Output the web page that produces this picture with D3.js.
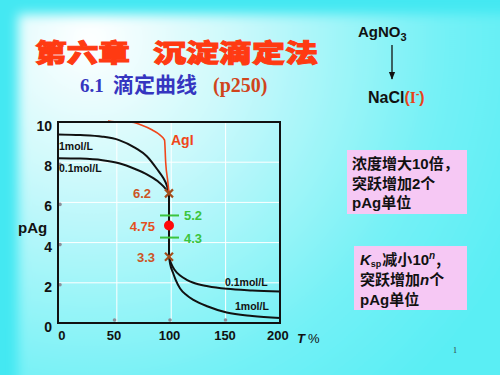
<!DOCTYPE html>
<html>
<head>
<meta charset="utf-8">
<script src="https://cdn.jsdelivr.net/npm/d3@7"></script>
<style>
  body { margin: 0; }
  svg { display: block; }
  text { font-family: Arial, "Liberation Sans", sans-serif; }
</style>
</head>
<body>
<svg id="chart" width="500" height="375"></svg>
<script>
// titration curves (T %, pAg)
const pre1 = [[0, 9.38], [20, 9.35], [40, 9.27], [55, 9.1], [70, 8.7], [80, 8.3], [90, 7.6], [95, 7.2], [98, 6.85], [100, 6.45]];
const pre01 = [[0, 8.2], [20, 8.18], [40, 8.1], [55, 7.95], [70, 7.65], [80, 7.4], [90, 7.05], [95, 6.8], [98, 6.6], [100, 6.45]];
const jump = [[100, 6.45], [100, 3.3]];
const post01 = [[100, 3.3], [102, 2.95], [105, 2.65], [110, 2.36], [116, 2.15], [122, 2.0], [135, 1.83], [152, 1.7], [175, 1.62], [200, 1.57]];
const post1 = [[100, 3.3], [101, 2.95], [103.6, 2.5], [106, 2.15], [110, 1.72], [116, 1.38], [122, 1.15], [135, 0.82], [152, 0.52], [175, 0.35], [200, 0.25]];
const agI = [[45, 10.05], [55, 10.0], [65, 10.0], [75, 9.85], [85, 9.6], [92, 9.35], [96, 9.1], [97, 8.0], [99, 7.0], [100, 6.45]];

const xTicks = [0, 50, 100, 150, 200];
const yTicks = [0, 2, 4, 6, 8, 10];
const gridX = [53, 102, 151];
const gridY = [2, 4, 6, 8];

const crosses = [{ t: 100, p: 6.45, label: '6.2' }, { t: 100, p: 3.3, label: '3.3' }];
const bars = [{ t: 100, p: 5.35, label: '5.2' }, { t: 100, p: 4.25, label: '4.3' }];
const eqPoint = { t: 100, p: 4.85, label: '4.75' };

const svg = d3.select('#chart');

// background
let defs = svg.append('defs');
let grad = defs.append('radialGradient')
  .attr('id', 'bg')
  .attr('gradientUnits', 'userSpaceOnUse')
  .attr('cx', 90).attr('cy', 40).attr('r', 470);
grad.append('stop').attr('offset', 0).attr('stop-color', '#ffffff');
grad.append('stop').attr('offset', 0.3).attr('stop-color', '#cdf9fb');
grad.append('stop').attr('offset', 0.75).attr('stop-color', '#74f1f6');
grad.append('stop').attr('offset', 1).attr('stop-color', '#5aeef4');
let blur = defs.append('filter').attr('id', 'soft').attr('x', -0.1).attr('y', -0.1).attr('width', 1.2).attr('height', 1.2);
blur.append('feGaussianBlur').attr('stdDeviation', 6);

svg.append('rect').attr('width', 500).attr('height', 375).attr('fill', '#44e8f2');
svg.append('rect').attr('x', 18).attr('y', 14).attr('width', 500).attr('height', 380)
  .attr('fill', 'url(#bg)').attr('filter', 'url(#soft)');

// titles
let title = svg.append('text')
  .attr('y', 62)
  .style('font-family', '"Noto Sans CJK SC"')
  .style('font-weight', 900)
  .style('font-size', '25px')
  .style('fill', '#ff3a12')
  .style('stroke', '#ff3a12').style('stroke-width', 1);
title.append('tspan').attr('x', 35).attr('textLength', 95).attr('lengthAdjust', 'spacingAndGlyphs').text('第六章');
title.append('tspan').attr('x', 153).attr('textLength', 165).attr('lengthAdjust', 'spacingAndGlyphs').text('沉淀滴定法');

let sub = svg.append('text')
  .attr('x', 80).attr('y', 92)
  .style('font-family', '"Liberation Serif", "Noto Sans CJK SC", serif')
  .style('font-weight', 'bold')
  .style('font-size', '19px');
sub.append('tspan').style('fill', '#3535c0').text('6.1');
sub.append('tspan').attr('x', 113).style('fill', '#3535c0').style('font-family', '"Noto Sans CJK SC"')
  .style('font-size', '21px').text('滴定曲线');
sub.append('tspan').attr('x', 213).style('fill', '#d0451c').style('font-size', '20px').text('(p250)');

let ag = svg.append('text').attr('x', 358).attr('y', 37)
  .style('font-weight', 'bold').style('font-size', '15px').style('fill', '#111');
ag.append('tspan').text('AgNO');
ag.append('tspan').attr('dy', 4).style('font-size', '11px').text('3');

defs.append('marker')
  .attr('id', 'arrow').attr('viewBox', '0 0 10 10')
  .attr('refX', 9).attr('refY', 5)
  .attr('markerWidth', 6).attr('markerHeight', 6)
  .attr('orient', 'auto')
  .append('path').attr('d', 'M0,1 L10,5 L0,9 z').attr('fill', '#111');
svg.append('line')
  .attr('x1', 392).attr('y1', 45).attr('x2', 392).attr('y2', 79)
  .attr('stroke', '#111').attr('stroke-width', 1.3)
  .attr('marker-end', 'url(#arrow)');

let na = svg.append('text').attr('x', 368).attr('y', 103)
  .style('font-weight', 'bold').style('font-size', '16px').style('fill', '#111');
na.append('tspan').text('NaCl');
na.append('tspan').style('fill', '#e8431a').text('(');
na.append('tspan').style('fill', '#e8431a').style('font-family', '"Liberation Serif", serif').text('I');
na.append('tspan').style('fill', '#e8431a').attr('dy', -6).style('font-size', '10px').text('-');
na.append('tspan').style('fill', '#e8431a').attr('dy', 6).text(')');

// pink notes
function note(x, y, w, h, tx, gap, lines) {
  svg.append('rect').attr('x', x).attr('y', y).attr('width', w).attr('height', h).attr('fill', '#f6c8f4');
  lines.forEach((parts, i) => {
    let t = svg.append('text').attr('x', tx).attr('y', y + 19 + i * gap)
      .style('font-family', '"Noto Sans CJK SC"').style('font-weight', 'bold')
      .style('font-size', '15px').style('fill', '#111');
    parts.forEach(p => {
      let s = t.append('tspan').text(p.s);
      if (p.ff) s.style('font-family', p.ff);
      if (p.it) s.style('font-style', 'italic');
      if (p.dy) s.attr('dy', p.dy);
      if (p.dx) s.attr('dx', p.dx);
      if (p.fs) s.style('font-size', p.fs);
    });
  });
}
note(347, 150, 120, 64, 352, 19.5, [
  [{ s: '浓度增大' }, { s: '10', ff: 'Arial' }, { s: '倍，' }],
  [{ s: '突跃增加' }, { s: '2', ff: 'Arial' }, { s: '个' }],
  [{ s: 'pAg', ff: 'Arial' }, { s: '单位' }],
]);
note(354, 246, 113, 64, 360, 20, [
  [{ s: 'K', ff: 'Arial', it: true }, { s: 'sp', ff: 'Arial', dy: 2, fs: '9px' }, { s: '减小', dy: -2, dx: 1 }, { s: '10', ff: 'Arial' }, { s: 'n', ff: 'Arial', it: true, dy: -6, fs: '10px' }, { s: ',', dy: 6, dx: 1 }],
  [{ s: '突跃增加' }, { s: 'n', ff: 'Arial', it: true }, { s: '个' }],
  [{ s: 'pAg', ff: 'Arial' }, { s: '单位' }],
]);

svg.append('text').attr('x', 453).attr('y', 353)
  .style('font-family', '"Liberation Serif", serif').style('font-size', '8px').style('fill', '#333').text('1');

// chart
const x = d3.scaleLinear().domain([0, 200]).range([58, 280]);
const y = d3.scaleLinear().domain([0, 10]).range([323, 122]);

let grid = svg.append('g').attr('stroke', '#ffffff').attr('stroke-width', 1);
grid.selectAll('.gx').data(gridX).join('line')
  .attr('x1', d => x(d)).attr('x2', d => x(d)).attr('y1', y(10)).attr('y2', y(0));
grid.selectAll('.gy').data(gridY).join('line')
  .attr('x1', x(0)).attr('x2', x(200)).attr('y1', d => y(d)).attr('y2', d => y(d));

// small grey dots on the axes
svg.selectAll('.dy').data(gridY).join('circle')
  .attr('cx', x(0) + 2).attr('cy', d => y(d) + 2).attr('r', 1.8).attr('fill', '#8a8f9a');
svg.selectAll('.dx').data([50, 100, 150]).join('circle')
  .attr('cx', d => x(d) + 1).attr('cy', y(0) - 3).attr('r', 1.8).attr('fill', '#8a8f9a');

let yAxis = svg.append('g').attr('transform', `translate(${x(0)},0)`)
  .call(d3.axisLeft(y).tickValues(yTicks).tickSize(0).tickPadding(6));
yAxis.select('.domain').remove();
yAxis.selectAll('text').attr('dy', '0.6em')
  .style('font-family', 'Arial').style('font-weight', 'bold').style('font-size', '14px').style('fill', '#111');

let xAxis = svg.append('g').attr('transform', `translate(0,${y(0)})`)
  .call(d3.axisBottom(x).tickValues(xTicks).tickSize(0).tickPadding(8));
xAxis.select('.domain').remove();
xAxis.selectAll('text')
  .attr('dx', d => d === 0 ? '0.25em' : (d === 200 ? '-0.2em' : 0))
  .style('font-family', 'Arial').style('font-weight', 'bold').style('font-size', '13px').style('fill', '#111');

let tl = svg.append('text').attr('x', 297).attr('y', 343)
  .style('font-weight', 'bold').style('font-size', '13px').style('fill', '#111');
tl.append('tspan').style('font-style', 'italic').text('T');
tl.append('tspan').attr('dx', 3).style('font-weight', 'normal').text('%');

svg.append('text').attr('x', 18).attr('y', 233)
  .style('font-weight', 'bold').style('font-size', '15px').style('fill', '#111').text('pAg');

// curves
const line = d3.line().x(d => x(d[0])).y(d => y(d[1])).curve(d3.curveMonotoneX);
const straight = d3.line().x(d => x(d[0])).y(d => y(d[1]));

[pre1, pre01, post01, post1].forEach(c => {
  svg.append('path').attr('d', line(c)).attr('fill', 'none').attr('stroke', '#111').attr('stroke-width', 2);
});
svg.append('path').attr('d', straight(jump)).attr('fill', 'none').attr('stroke', '#111').attr('stroke-width', 2);
svg.append('path').attr('d', line(agI)).attr('fill', 'none').attr('stroke', '#f0461a').attr('stroke-width', 1.6);

// frame
svg.append('rect')
  .attr('x', x(0)).attr('y', y(10)).attr('width', x(200) - x(0)).attr('height', y(0) - y(10))
  .attr('fill', 'none').attr('stroke', '#111').attr('stroke-width', 2);

// curve labels
function lbl(tx, ty, s) {
  svg.append('text').attr('x', tx).attr('y', ty)
    .style('font-weight', 'bold').style('font-size', '10.5px').style('fill', '#111').text(s);
}
lbl(59, 150, '1mol/L');
lbl(59, 172, '0.1mol/L');
lbl(225, 286, '0.1mol/L');
lbl(235, 310, '1mol/L');

svg.append('text').attr('x', 171).attr('y', 145)
  .style('font-weight', 'bold').style('font-size', '14px').style('fill', '#f0461a').text('AgI');

// markers
let cr = svg.selectAll('.cross').data(crosses).join('g')
  .attr('transform', d => `translate(${x(d.t)},${y(d.p)})`);
cr.append('path').attr('d', 'M-4,-4 L4,4 M-4,4 L4,-4')
  .attr('stroke', '#a24e1c').attr('stroke-width', 2.2);
cr.append('text').attr('x', d => d.label === '3.3' ? -14 : -18).attr('y', 5).attr('text-anchor', 'end')
  .style('font-weight', 'bold').style('font-size', '13px').style('fill', '#cc5526').text(d => d.label);

let br = svg.selectAll('.bar').data(bars).join('g')
  .attr('transform', d => `translate(${x(d.t)},${y(d.p)})`);
br.append('line').attr('x1', -9).attr('x2', 10).attr('stroke', '#3cc43c').attr('stroke-width', 2);
br.append('text').attr('x', 15).attr('y', 5)
  .style('font-weight', 'bold').style('font-size', '13px').style('fill', '#3cc43c').text(d => d.label);

svg.append('circle').attr('cx', x(eqPoint.t)).attr('cy', y(eqPoint.p)).attr('r', 5).attr('fill', '#ff0a0a');
svg.append('text').attr('x', x(eqPoint.t) - 14).attr('y', y(eqPoint.p) + 5).attr('text-anchor', 'end')
  .style('font-weight', 'bold').style('font-size', '13px').style('fill', '#e4501e').text(eqPoint.label);
</script>
</body>
</html>
